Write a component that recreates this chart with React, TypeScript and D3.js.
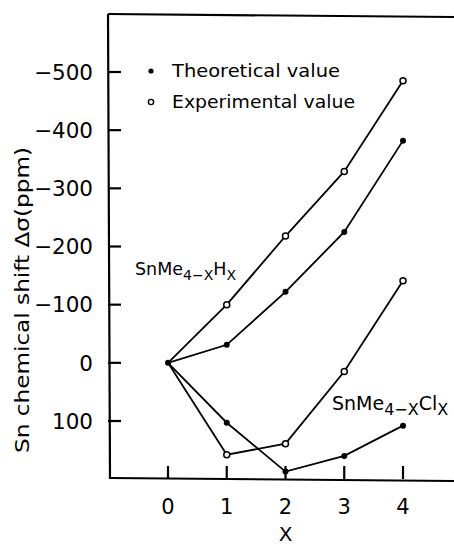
import React from "react";
import * as d3 from "d3";

const xValues = [0, 1, 2, 3, 4];
const xTicks = [0, 1, 2, 3, 4];
const yTicks = [-500, -400, -300, -200, -100, 0, 100];

const hydrideExperimental = [0, -100, -218, -329, -485];
const hydrideTheoretical = [0, -31, -122, -225, -382];
const chlorideExperimental = [0, 158, 139, 15, -141];
const chlorideTheoretical = [0, 103, 187, 160, 108];

const legendLabels = ["Theoretical value", "Experimental value"];
const yTitle = "Sn chemical shift Δσ(ppm)";
const xTitle = "X";

const FONT = "'DejaVu Sans', 'Noto Sans', sans-serif";

export default function App() {
  const W = 454;
  const H = 546;
  const x = d3.scaleLinear().domain([0, 4]).range([168, 403]);
  const y = d3.scaleLinear().domain([-500, 100]).range([72, 421]);
  const left = 108;
  const top = 14;
  const bottom = 479;

  const line = d3
    .line<number>()
    .x((_, i) => x(xValues[i]))
    .y((d) => y(d));

  const series = [
    { data: hydrideExperimental, open: true },
    { data: hydrideTheoretical, open: false },
    { data: chlorideExperimental, open: true },
    { data: chlorideTheoretical, open: false },
  ];

  return (
    <svg
      width={W}
      height={H}
      style={{ position: "absolute", left: 0, top: 0, background: "#fff" }}
      fontFamily={FONT}
    >
      {/* frame */}
      <line x1={left} y1={top} x2={W} y2={top + 3} stroke="#000" strokeWidth={2.2} />
      <line x1={left} y1={top} x2={left + 2} y2={bottom} stroke="#000" strokeWidth={2.2} />
      <line x1={left + 2} y1={bottom - 1} x2={W} y2={bottom + 2} stroke="#000" strokeWidth={2.2} />

      {/* y ticks */}
      {yTicks.map((t) => (
        <g key={t}>
          <line x1={left} x2={left + 13} y1={y(t)} y2={y(t)} stroke="#000" strokeWidth={2.2} />
          <text
            x={93}
            y={y(t)}
            dy="0.36em"
            textAnchor="end"
            fontSize={21.5}
            fill="#000"
          >
            {t < 0 ? "\u2212" + Math.abs(t) : String(t)}
          </text>
        </g>
      ))}

      {/* x ticks */}
      {xTicks.map((t) => (
        <g key={t}>
          <line x1={x(t)} x2={x(t)} y1={bottom - 13} y2={bottom} stroke="#000" strokeWidth={2.2} />
          <text x={x(t)} y={506} dy="0.36em" textAnchor="middle" fontSize={21} fill="#000">
            {t}
          </text>
        </g>
      ))}
      <text x={x(2)} y={534} dy="0.36em" textAnchor="middle" fontSize={20} fill="#000">
        {xTitle}
      </text>

      {/* y title */}
      <text
        transform="translate(22,300) rotate(-90)"
        textAnchor="middle"
        dy="0.36em"
        fontSize={20}
        textLength={306}
        lengthAdjust="spacingAndGlyphs"
        fill="#000"
      >
        {yTitle}
      </text>

      {/* series */}
      {series.map((s, si) => (
        <g key={si}>
          <path d={line(s.data) || ""} fill="none" stroke="#000" strokeWidth={1.8} />
          {s.data.map((v, i) =>
            i === 0 ? null : s.open ? (
              <circle key={i} cx={x(xValues[i])} cy={y(v)} r={3} fill="#fff" stroke="#000" strokeWidth={1.5} />
            ) : (
              <circle key={i} cx={x(xValues[i])} cy={y(v)} r={3} fill="#000" />
            )
          )}
        </g>
      ))}
      <circle cx={x(0)} cy={y(0)} r={3} fill="#000" />

      {/* legend */}
      <circle cx={151} cy={71} r={2.6} fill="#000" />
      <text x={172} y={71} dy="0.36em" fontSize={18} textLength={168} lengthAdjust="spacingAndGlyphs" fill="#000">
        {legendLabels[0]}
      </text>
      <circle cx={151} cy={102} r={2.6} fill="#fff" stroke="#000" strokeWidth={1.4} />
      <text x={172} y={102} dy="0.36em" fontSize={18} textLength={183} lengthAdjust="spacingAndGlyphs" fill="#000">
        {legendLabels[1]}
      </text>

      {/* annotations */}
      <text x={135} y={275} fontSize={17.5} fill="#000">
        SnMe
        <tspan fontSize={14} dy={5}>4−X</tspan>
        <tspan fontSize={17.5} dy={-5}>H</tspan>
        <tspan fontSize={14} dy={5}>X</tspan>
      </text>
      <text x={332} y={410} fontSize={19} fill="#000">
        SnMe
        <tspan fontSize={16} dy={5}>4−X</tspan>
        <tspan fontSize={19} dy={-5}>Cl</tspan>
        <tspan fontSize={16} dy={5}>X</tspan>
      </text>
    </svg>
  );
}
